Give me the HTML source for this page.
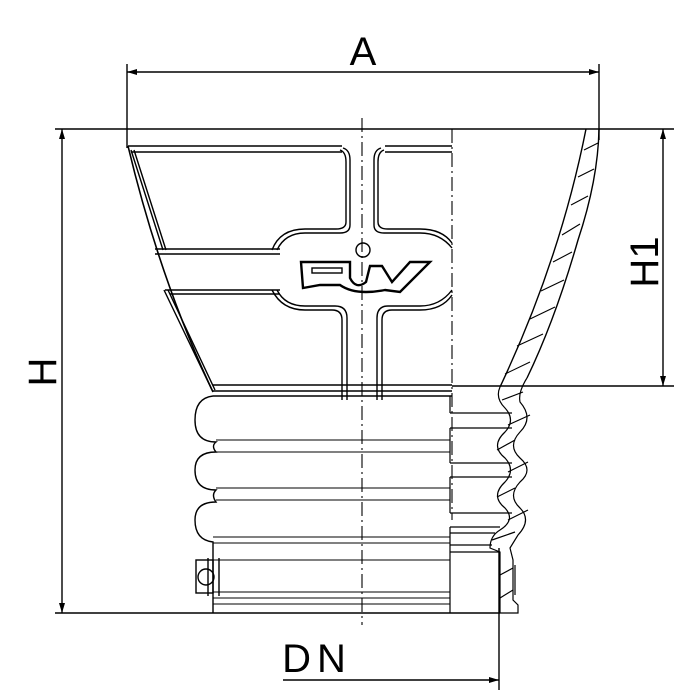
<!DOCTYPE html>
<html><head><meta charset="utf-8"><style>
html,body{margin:0;padding:0;background:#fff;}
svg{display:block;}
text{font-family:"Liberation Sans",sans-serif;fill:#000;}
</style></head><body>
<svg width="699" height="700" viewBox="0 0 699 700" xmlns="http://www.w3.org/2000/svg">
<defs>
<marker id="ar" markerWidth="10" markerHeight="8" refX="10" refY="4" orient="auto-start-reverse" markerUnits="userSpaceOnUse">
<path d="M0,1 L10,4 L0,7 Z" fill="#000"/>
</marker>
</defs>
<g stroke="#000" fill="none" stroke-width="1.4">
<!-- dimension A -->
<line x1="127" y1="64" x2="127" y2="148"/>
<line x1="599" y1="64" x2="599" y2="140"/>
<line x1="127" y1="72" x2="599" y2="72" marker-start="url(#ar)" marker-end="url(#ar)"/>
<!-- top line -->
<line x1="55" y1="129" x2="674" y2="129"/>
<!-- H -->
<line x1="62" y1="129" x2="62" y2="613" marker-start="url(#ar)" marker-end="url(#ar)"/>
<line x1="55" y1="613" x2="500" y2="613"/>
<!-- H1 -->
<line x1="663" y1="129" x2="663" y2="386" marker-start="url(#ar)" marker-end="url(#ar)"/>
<line x1="452" y1="386" x2="674" y2="386"/>
<!-- DN -->
<line x1="499" y1="548" x2="499" y2="690"/>
<line x1="283" y1="680" x2="499" y2="680" marker-end="url(#ar)"/>
<!-- centerlines -->
<line x1="362" y1="118" x2="362" y2="625" stroke-dasharray="14,4,2,4" stroke-width="1.1"/>
<line x1="452" y1="129" x2="452" y2="520" stroke-dasharray="14,4,2,4" stroke-width="1.1"/>

<!-- cone left edge -->
<path d="M128,146 Q160,280 213,392" stroke-width="1.6"/>
<path d="M131,150 L163,250"/>
<path d="M134,150 L166,250"/>
<path d="M164,290 L212,390"/>
<path d="M168,290 L215,390"/>
<!-- cone horizontals -->
<line x1="128" y1="146" x2="342" y2="146"/>
<line x1="131" y1="152" x2="342" y2="152"/>
<line x1="385" y1="146" x2="452" y2="146"/>
<line x1="385" y1="152" x2="452" y2="152"/>
<line x1="155" y1="249" x2="280" y2="249"/>
<line x1="155" y1="254" x2="280" y2="254"/>
<line x1="165" y1="290" x2="280" y2="290"/>
<line x1="170" y1="294" x2="280" y2="294"/>
<line x1="213" y1="385" x2="452" y2="385"/>
<line x1="213" y1="391" x2="452" y2="391"/>
<line x1="213" y1="396" x2="452" y2="396"/>
<!-- cross -->
<path d="M343,148 Q350,150 350,160 L350,225 Q350,233 340,233 L305,233 Q285,233 277,250"/>
<path d="M340,150 Q346,152 346,162 L346,222 Q346,229 336,229 L305,229 Q280,229 272,250"/>
<path d="M381,148 Q374,150 374,160 L374,225 Q374,233 384,233 L420,233 Q440,233 452,248"/>
<path d="M384,150 Q378,152 378,162 L378,222 Q378,229 388,229 L420,229 Q442,229 452,243"/>
<path d="M277,290 Q285,306 305,306 L335,306 Q347,306 347,318 L347,400"/>
<path d="M272,290 Q282,310 305,310 L332,310 Q342,310 342,320 L342,400"/>
<path d="M452,290 Q440,306 420,306 L388,306 Q377,306 377,318 L377,400"/>
<path d="M452,295 Q442,310 420,310 L392,310 Q382,310 382,320 L382,400"/>
<circle cx="363" cy="250" r="7"/>
<!-- logo -->
<path d="M301,262 L350,262 L350,278 Q356,290 366,282 L370,266 L382,266 L392,282 L410,262 L430,262 L400,292 L385,290 Q375,292 366,292 Q350,292 340,285 L320,285 L303,288 Z" stroke-width="2.4"/>
<rect x="312" y="268" width="30" height="5" stroke-width="1.4"/>

<!-- cone right wall -->
<path d="M586,129 Q560,260 500,387"/>
<path d="M599,129 Q598,180 578,240 Q555,320 527,378"/>
<g stroke-width="1.1">
<line x1="584" y1="150" x2="598" y2="143"/>
<line x1="578" y1="177" x2="594" y2="169"/>
<line x1="571" y1="205" x2="588" y2="196"/>
<line x1="562" y1="235" x2="580" y2="224"/>
<line x1="553" y1="262" x2="572" y2="252"/>
<line x1="541" y1="291" x2="564" y2="280"/>
<line x1="530" y1="319" x2="555" y2="307"/>
<line x1="517" y1="346" x2="543" y2="334"/>
<line x1="505" y1="374" x2="530" y2="362"/>
</g>

<!-- bellows left -->
<path d="M213,396 Q195,398 195,420 Q195,442 216,442 Q211,446 216,452 Q195,452 195,470 Q195,490 216,490 Q211,495 216,502 Q195,502 195,520 Q195,540 213,542 L213,613"/>
<g stroke-width="1.1">
<line x1="216" y1="440" x2="450" y2="440"/>
<line x1="216" y1="452" x2="450" y2="452"/>
<line x1="216" y1="488" x2="450" y2="488"/>
<line x1="216" y1="500" x2="450" y2="500"/>
<line x1="213" y1="537" x2="450" y2="537"/>
<line x1="213" y1="543" x2="450" y2="543"/>
<line x1="213" y1="560" x2="450" y2="560"/>
<line x1="213" y1="592" x2="450" y2="592"/>
<line x1="213" y1="598" x2="450" y2="598"/>
<line x1="213" y1="604" x2="450" y2="604"/>
</g>
<!-- box with circle -->
<rect x="196" y="560" width="17" height="33"/>
<circle cx="206" cy="577" r="8"/>
<line x1="208" y1="558" x2="208" y2="596"/>
<line x1="219" y1="558" x2="219" y2="596"/>

<!-- right section -->
<g stroke-width="1.2">
<line x1="450" y1="396" x2="450" y2="413"/>
<line x1="450" y1="413" x2="512" y2="413"/>
<line x1="450" y1="428" x2="512" y2="428"/>
<line x1="450" y1="428" x2="450" y2="463"/>
<line x1="450" y1="463" x2="512" y2="463"/>
<line x1="450" y1="477" x2="512" y2="477"/>
<line x1="450" y1="477" x2="450" y2="513"/>
<line x1="450" y1="513" x2="512" y2="513"/>
<line x1="450" y1="527" x2="500" y2="527"/>
<line x1="450" y1="527" x2="450" y2="613"/>
<line x1="450" y1="533" x2="495" y2="533"/>
<line x1="450" y1="545" x2="492" y2="545"/>
<line x1="450" y1="552" x2="500" y2="552"/>
<path d="M500,387 Q495,398 505,408 Q516,420 505,432 Q490,446 505,458 Q516,470 505,482 Q490,496 505,508 Q516,520 500,530 Q490,536 490,548 L500,552 L500,613"/>
<path d="M527,378 Q518,392 520,402 Q534,418 520,432 Q507,446 520,458 Q534,470 520,482 Q507,496 520,508 Q532,520 518,535 L510,548 L513,560 L513,600 L518,605 L518,613 L500,613"/>
<line x1="515" y1="565" x2="515" y2="595"/>
<line x1="502" y1="400" x2="523" y2="392"/>
<line x1="508" y1="425" x2="530" y2="415"/>
<line x1="497" y1="450" x2="515" y2="440"/>
<line x1="508" y1="472" x2="528" y2="462"/>
<line x1="497" y1="497" x2="515" y2="488"/>
<line x1="508" y1="520" x2="528" y2="510"/>
<line x1="492" y1="540" x2="515" y2="532"/>
<line x1="500" y1="575" x2="513" y2="568"/>
<line x1="500" y1="598" x2="513" y2="590"/>
</g>
</g>
<!-- labels -->
<text x="363" y="65" font-size="40" text-anchor="middle">A</text>
<text transform="translate(56,372) rotate(-90)" font-size="40" text-anchor="middle">H</text>
<text transform="translate(658,262) rotate(-90)" font-size="40" text-anchor="middle">H1</text>
<text x="317" y="672" font-size="40" text-anchor="middle" letter-spacing="6">DN</text>
</svg>
</body></html>
